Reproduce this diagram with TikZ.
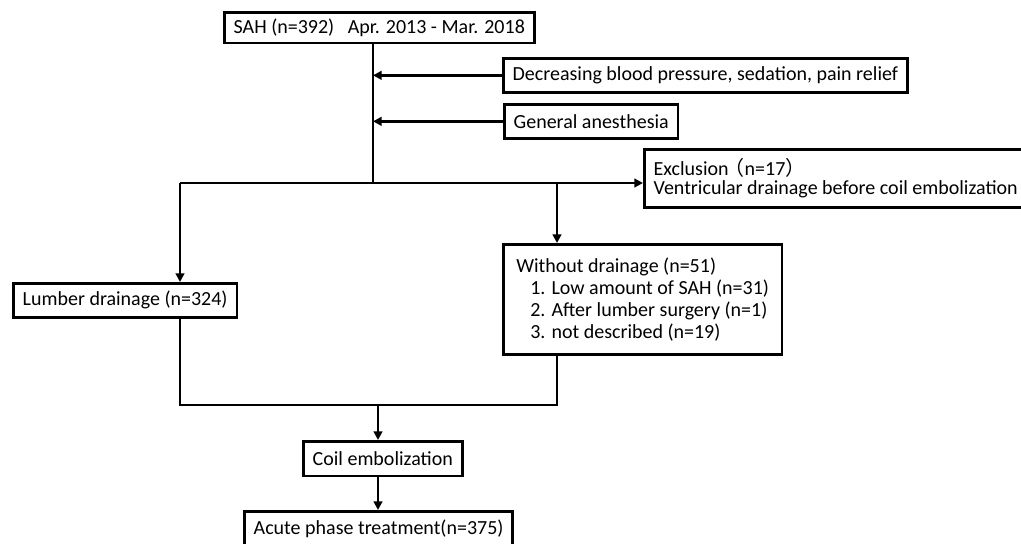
\documentclass[tikz,border=0pt]{standalone}
\usepackage{fontspec}
\setmainfont{Carlito}
\newfontfamily\cjk{Noto Sans CJK JP}
\usetikzlibrary{arrows.meta,positioning}

\tikzset{
  box/.style={draw, line width=2pt, inner xsep=7pt, inner ysep=0pt,
    minimum height=25.5pt, font=\fontsize{15}{16.5}\selectfont},
  line/.style={line width=2pt},
  arr/.style={line width=2pt, -{Triangle[length=6.5pt,width=6.5pt]}},
}

\begin{document}
\begin{tikzpicture}[x=0.75pt,y=-0.75pt]
    \useasboundingbox (0,0) rectangle (1021,543);
    % Draw boxes
    \node[box, anchor=north west, minimum height=23pt] (sah) at (223,11)
      {SAH (n=392)\hspace{0.45em} Apr. 2013 - Mar. 2018};
    \node[box, anchor=north west] (calm) at (502,57)
      {Decreasing blood pressure, sedation, pain relief};
    \node[box, anchor=north west] (anest) at (503,103) {General anesthesia};
    \node[box, anchor=north west, minimum height=43.5pt, align=left,
      font=\fontsize{15}{14.5}\selectfont] (excl) at (643,148)
      {Exclusion\hspace{-0.2em}{\cjk （}n=17{\cjk ）}\\Ventricular drainage before coil embolization};
    \node[box, anchor=north west] (lumber) at (12,282) {Lumber drainage (n=324)};
    \node[box, anchor=north west, minimum height=82.5pt, inner xsep=9.75pt,
      align=left] (nodrain) at (502,243)
      {Without drainage (n=51)\\
       \hspace*{10.5pt}1. Low amount of SAH (n=31)\\
       \hspace*{10.5pt}2. After lumber surgery (n=1)\\
       \hspace*{10.5pt}3. not described (n=19)};
    \node[box, anchor=north west, minimum height=26pt] (coil) at (302,440) {Coil embolization};
    \node[box, anchor=north west, minimum height=26pt] (acute) at (243,510)
      {Acute phase treatment(n=375)};

    % Draw branch points
    \coordinate (split) at (373,183);
    \coordinate (left) at (180,183);
    \coordinate (mid) at (557,183);
    \coordinate (join) at (378,405);

    % Draw main line and side arrows
    \draw[line] (sah.south -| split) -- (split);
    \draw[arr] (calm.west) -- (calm.west -| split);
    \draw[arr] (anest.west) -- (anest.west -| split);
    \draw[line] (left) -- (split);
    \draw[arr] (split) -- (excl.west |- split);

    % Draw the two groups
    \draw[arr] (left) -- (lumber.north -| left);
    \draw[arr] (mid) -- (nodrain.north -| mid);
    \draw[line] (lumber.south -| left) -- (left |- join) -- (mid |- join)
                -- (nodrain.south -| mid);

    % Draw path to treatment
    \draw[arr] (join) -- (coil.north -| join);
    \draw[arr] (coil.south -| join) -- (acute.north -| join);
\end{tikzpicture}
\end{document}
